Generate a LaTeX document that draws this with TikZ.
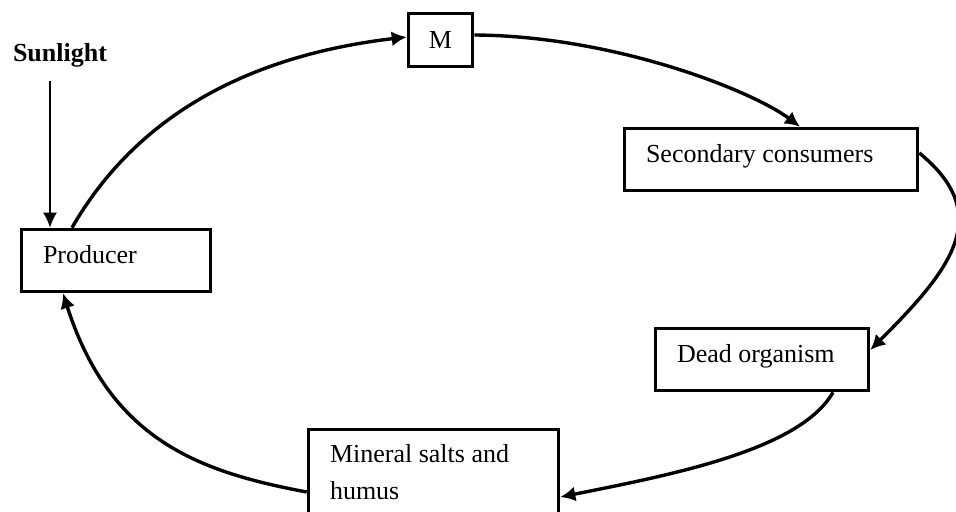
\documentclass[tikz,border=0pt]{standalone}
\usepackage{fontspec}
\setmainfont{Liberation Serif}
\usetikzlibrary{arrows.meta}
\begin{document}
\begin{tikzpicture}[x=0.5pt, y=-0.5pt, every node/.style={font=\fontsize{13}{18.5}\selectfont}]
    % Styles
    \tikzstyle{stage} = [rectangle, draw=black, line width=1.8pt, minimum height=31pt, inner xsep=10.75pt, align=flush left, text height=0.7em, text depth=0.35em]
    \tikzstyle{pool} = [rectangle, draw=black, line width=1.8pt, inner xsep=10.75pt, align=flush left]
    \tikzstyle{flow} = [line width=1.7pt, -{Latex[length=7.5pt,width=7.5pt]}]
    \tikzstyle{ray} = [line width=1pt, -{Latex[length=7.5pt,width=7pt]}]

    \useasboundingbox (0,0) rectangle (956,512);

    % Nodes
    \node (prod) [stage, text width=73pt] at (116,260.5) {Producer};
    \node (m) [rectangle, draw=black, line width=1.8pt, minimum width=32pt, minimum height=26.5pt, inner sep=0pt] at (440.5,40) {M};
    \node (sec) [stage, text width=125pt] at (771,159.5) {Secondary consumers};
    \node (dead) [stage, text width=85pt] at (762,359.5) {Dead organism};
    \node (salts) [pool, text width=103.5pt, minimum height=43.1pt] at (433.5,472.6) {Mineral salts and\\humus};
    \node (sun) [font=\fontsize{13}{18.5}\selectfont\bfseries] at (60,55) {Sunlight};

    % Arrows
    \draw [ray] ([xshift=-5pt,yshift=-3.3pt]sun.south) -- ([xshift=-33pt]prod.north);
    \draw [flow] ([xshift=-22pt]prod.north) .. controls +(60,-104) and +(-170,20) .. ([yshift=1.5pt]m.west);
    \draw [flow] ([yshift=2.5pt]m.east) .. controls +(140,1) and +(-48,-36) .. ([xshift=14.5pt]sec.north);
    \draw [flow] ([yshift=3.25pt]sec.east) .. controls +(76,62) and +(80,-80) .. ([yshift=4.75pt]dead.east);
    \draw [flow] ([xshift=35.5pt]dead.south) .. controls +(-33,58) and +(110,-22) .. ([yshift=-12.2pt]salts.east);
    \draw [flow] ([yshift=-9.7pt]salts.west) .. controls +(-107,-20) and +(47,147) .. ([xshift=-26.5pt]prod.south);
\end{tikzpicture}
\end{document}
